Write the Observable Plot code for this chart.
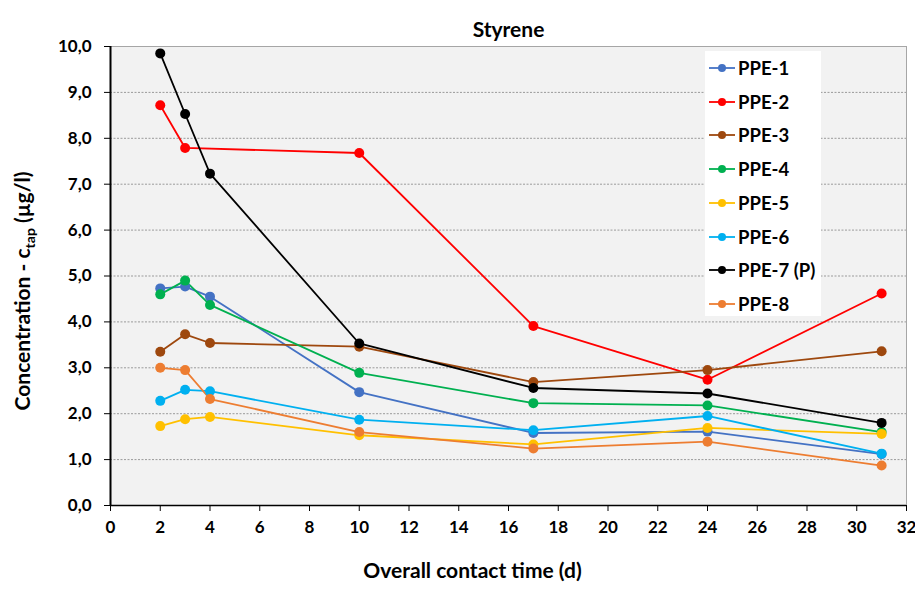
<!DOCTYPE html>
<html><head><meta charset="utf-8">
<script src="https://cdn.jsdelivr.net/npm/d3@7"></script>
<script src="https://cdn.jsdelivr.net/npm/@observablehq/plot@0.6"></script>
<style>
body{margin:0;background:#fff;font-family:Lato,"Open Sans",sans-serif;}
#wrap{position:relative;width:915px;height:589px;}
#legend{position:absolute;left:705px;top:51px;width:116px;height:265px;background:#fff;font-weight:bold;font-size:18.5px;}
.item{position:absolute;left:4px;height:22px;display:flex;align-items:center;}
.item svg{margin-right:3px;}
</style></head><body>
<div id="wrap"><div id="legend"></div></div>
<script>
const days = [2, 3, 4, 10, 17, 24, 31];
const series = ["PPE-1", "PPE-2", "PPE-3", "PPE-4", "PPE-5", "PPE-6", "PPE-7 (P)", "PPE-8"];
const colors = ["#4472C4", "#FF0000", "#9E480E", "#00B050", "#FFC000", "#00B0F0", "#000000", "#ED7D31"];
const ppe1 = [4.73, 4.77, 4.55, 2.47, 1.58, 1.61, 1.12];
const ppe2 = [8.72, 7.79, null, 7.68, 3.91, 2.74, 4.62];
const ppe3 = [3.35, 3.73, 3.54, 3.46, 2.69, 2.95, 3.36];
const ppe4 = [4.60, 4.90, 4.37, 2.89, 2.23, 2.18, 1.60];
const ppe5 = [1.73, 1.88, 1.93, 1.53, 1.33, 1.69, 1.56];
const ppe6 = [2.28, 2.52, 2.49, 1.87, 1.64, 1.95, 1.13];
const ppe7 = [9.85, 8.53, 7.23, 3.53, 2.56, 2.44, 1.80];
const ppe8 = [3.00, 2.95, 2.32, 1.60, 1.24, 1.39, 0.87];
const values = [ppe1, ppe2, ppe3, ppe4, ppe5, ppe6, ppe7, ppe8];
const xTicks = d3.range(0, 33, 2);
const yTicks = d3.range(0, 11, 1);
const title = "Styrene";
const xTitle = "Overall contact time (d)";

const rows = series.flatMap((s, i) => days.map((d, j) => ({series: s, day: d, value: values[i][j]})).filter(r => r.value != null));
const fmt = v => v.toFixed(1).replace(".", ",");

const chart = Plot.plot({
  width: 915, height: 589,
  marginLeft: 110, marginRight: 9, marginTop: 46, marginBottom: 84,
  style: {fontFamily: "Lato, 'Open Sans', sans-serif", fontSize: "17px", fontWeight: "bold", background: "transparent", color: "#000", overflow: "visible"},
  x: {domain: [0, 32]},
  y: {domain: [0, 10]},
  color: {domain: series, range: colors},
  marks: [
    Plot.frame({fill: "#F2F2F2", stroke: null}),
    Plot.gridY(yTicks.filter(v => v > 0 && v < 10), {stroke: "#9a9a9a", strokeOpacity: 1, strokeDasharray: "2,1.5"}),
    Plot.ruleY([10], {stroke: "#a6a6a6", strokeWidth: 1}),
    Plot.ruleX([32], {stroke: "#a6a6a6", strokeWidth: 1}),
    Plot.axisY({ticks: yTicks, tickFormat: fmt, tickSize: 6, tickPadding: 13, label: null, stroke: "#000"}),
    Plot.axisX({ticks: xTicks, tickFormat: d => String(d), tickSize: 6, tickPadding: 9, label: null, stroke: "#000"}),
    Plot.ruleX([0], {stroke: "#000", strokeWidth: 2}),
    Plot.ruleY([0], {stroke: "#000", strokeWidth: 1.5}),
    Plot.line(rows, {x: "day", y: "value", z: "series", stroke: "series", strokeWidth: 1.8}),
    Plot.dot(rows, {x: "day", y: "value", fill: "series", r: 5, stroke: null}),
    Plot.text([title], {frameAnchor: "top", dy: -24, fontSize: 21, fontWeight: "bold"}),
    Plot.text([xTitle], {frameAnchor: "bottom", dy: 72, dx: -36, fontSize: 21, fontWeight: "bold"})
  ]
});
document.getElementById("wrap").prepend(chart);

// y axis title with subscript
const svg = d3.select(chart.tagName === "svg" ? chart : chart.querySelector("svg"));
const yt = svg.append("text")
  .attr("transform", "translate(30,291) rotate(-90)")
  .attr("text-anchor", "middle")
  .attr("font-size", 21).attr("font-weight", "bold").attr("fill", "#000");
yt.append("tspan").text("Concentration - c");
yt.append("tspan").attr("font-size", 14).attr("dy", 5).text("tap");
yt.append("tspan").attr("dy", -5).text(" (µg/l)");

// legend
const leg = document.getElementById("legend");
series.forEach((s, i) => {
  const d = document.createElement("div");
  d.className = "item";
  d.style.top = (6 + i * 33.7) + "px";
  d.innerHTML = `<svg width="26" height="12"><line x1="0" x2="26" y1="6" y2="6" stroke="${colors[i]}" stroke-width="1.8"/><circle cx="13" cy="6" r="4" fill="${colors[i]}"/></svg><span>${s}</span>`;
  leg.appendChild(d);
});
</script>
</body></html>
